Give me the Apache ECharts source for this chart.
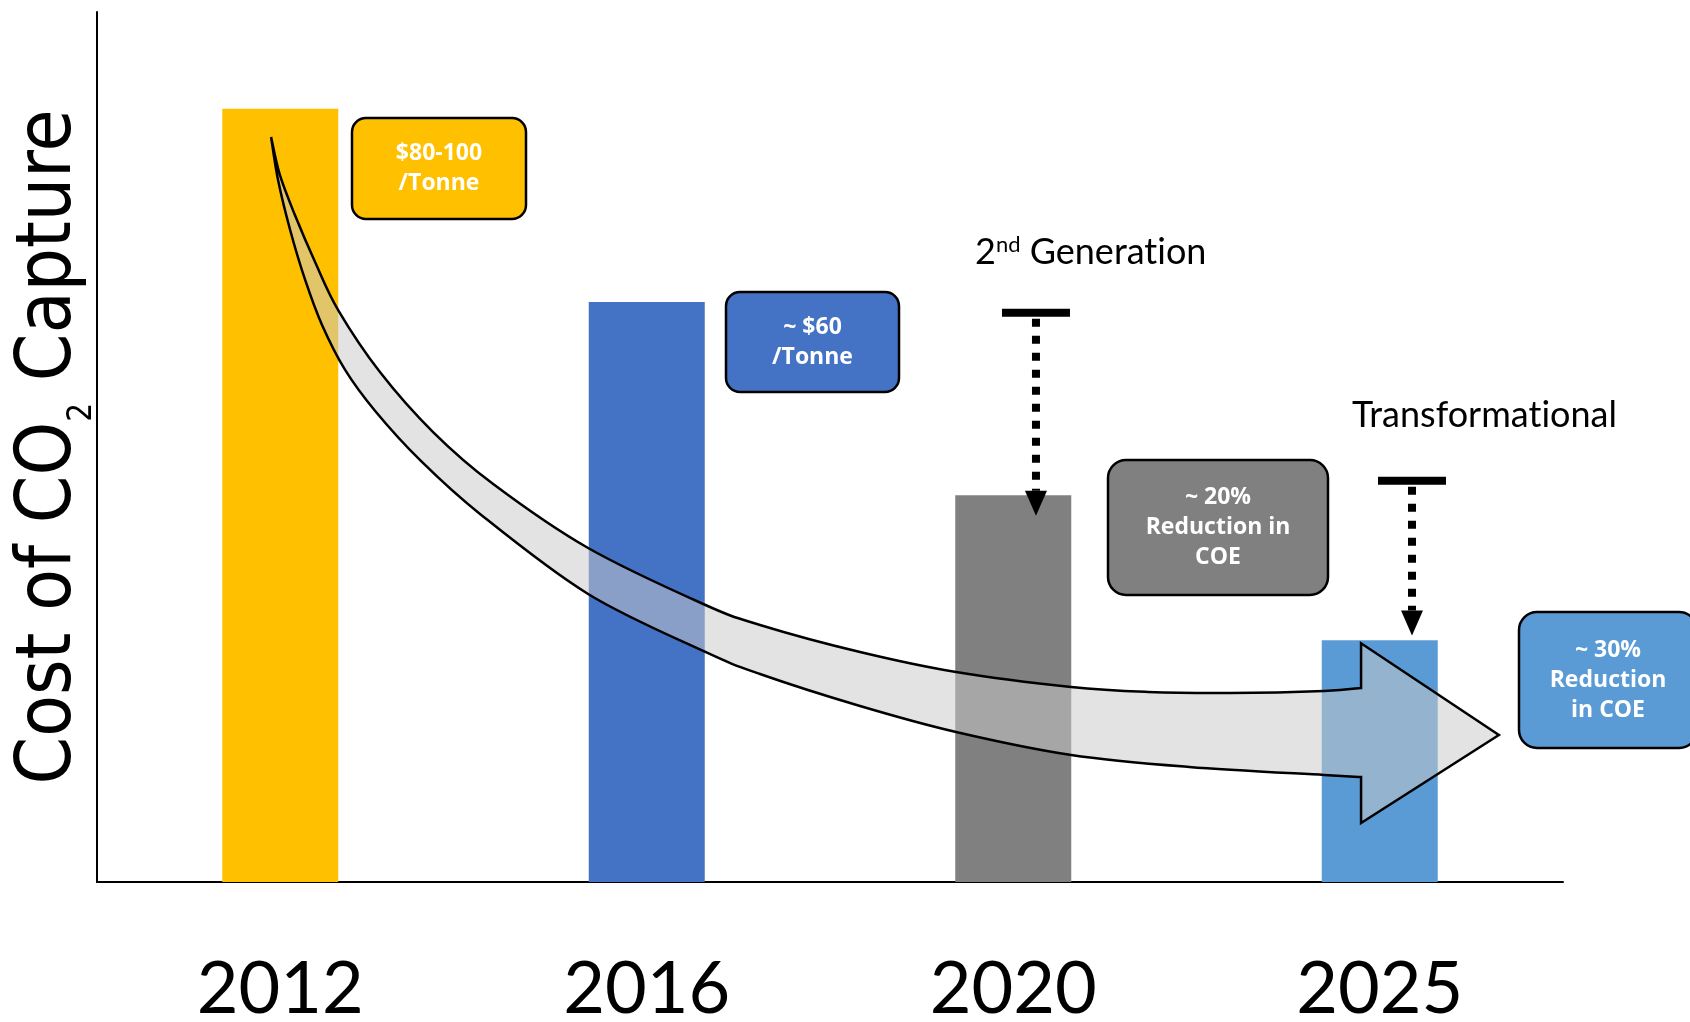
<!DOCTYPE html>
<html>
<head>
<meta charset="utf-8">
<title>Cost of CO2 Capture</title>
<script src="https://cdn.jsdelivr.net/npm/echarts@6/dist/echarts.min.js"></script>
<style>
  html, body { margin: 0; padding: 0; background: #ffffff; }
  #chart { width: 1690px; height: 1022px; }
</style>
</head>
<body>
<div id="chart"></div>
<script>
// ---- data ----
const years = ['2012', '2016', '2020', '2025'];
const captureCost = [80, 60, 40, 25];
const barColors = ['#ffc000', '#4472c4', '#808080', '#5b9bd5'];
const calloutText = [
  ['$80-100', '/Tonne'],
  ['~ $60', '/Tonne'],
  ['~ 20%', 'Reduction in', 'COE'],
  ['~ 30%', 'Reduction', 'in COE']
];
// trend arrow outline, in axis units (x = category index, y = cost)
const trendUpperX = [-0.025, -0.001, 0.040, 0.095, 0.158, 0.272, 0.417, 0.581, 0.840, 1.154, 1.309, 1.582, 1.844, 2.158, 2.368, 2.591, 2.848, 2.949];
const trendUpperY = [77.07, 73.14, 69.00, 64.14, 59.17, 52.76, 46.55, 41.17, 34.55, 28.76, 26.59, 23.79, 21.72, 20.17, 19.66, 19.55, 19.76, 20.07];
const trendLowerX = [-0.025, -0.006, 0.027, 0.068, 0.114, 0.177, 0.259, 0.381, 0.545, 0.840, 1.154, 1.309, 1.582, 1.844, 2.158, 2.480, 2.848, 2.949];
const trendLowerY = [77.07, 72.62, 67.45, 62.28, 57.62, 52.97, 48.72, 43.66, 38.07, 29.79, 23.90, 21.52, 18.21, 15.52, 13.14, 11.90, 11.07, 10.86];
const trendHeadX = [2.949, 3.325, 2.949];
const trendHeadY = [24.7, 15.2, 6.1];
// expected cost drops for the next technology generations
const stepNames = ['Generat\u200Cion', 'Transformat\u200Cional'];
const stepX = [2.062, 3.088];
const stepFrom = [58.9, 41.5];
const stepTo = [37.9, 25.5];

// ---- layout ----
const calloutBoxes = [
  { x: 352, y: 118, w: 174, h: 101, r: 14 },
  { x: 726, y: 292, w: 173, h: 100, r: 14 },
  { x: 1108, y: 460, w: 220, h: 135, r: 18 },
  { x: 1519, y: 612, w: 178, h: 136, r: 18 }
];
const BOX_FONT = '"Open Sans", "DejaVu Sans", sans-serif';
const HEAD_FONT = 'Lato, "Open Sans", sans-serif';
const TITLE_FONT = '"DejaVu Sans Condensed", "DejaVu Sans", sans-serif';

function catmullPath(pts, start) {
  let d = (start ? 'M' : 'L') + pts[0][0].toFixed(2) + ',' + pts[0][1].toFixed(2);
  const n = pts.length;
  for (let i = 0; i < n - 1; i++) {
    const p0 = pts[Math.max(i - 1, 0)], p1 = pts[i], p2 = pts[i + 1], p3 = pts[Math.min(i + 2, n - 1)];
    const c1 = [p1[0] + (p2[0] - p0[0]) / 6, p1[1] + (p2[1] - p0[1]) / 6];
    const c2 = [p2[0] - (p3[0] - p1[0]) / 6, p2[1] - (p3[1] - p1[1]) / 6];
    d += 'C' + c1[0].toFixed(2) + ',' + c1[1].toFixed(2) + ' ' + c2[0].toFixed(2) + ',' + c2[1].toFixed(2) + ' ' + p2[0].toFixed(2) + ',' + p2[1].toFixed(2);
  }
  return d;
}

function renderTrend(params, api) {
  const up = trendUpperX.map((x, i) => api.coord([x, trendUpperY[i]]));
  const lo = trendLowerX.map((x, i) => api.coord([x, trendLowerY[i]])).reverse();
  const head = trendHeadX.map((x, i) => api.coord([x, trendHeadY[i]]));
  let d = catmullPath(up, true);
  head.forEach(p => { d += 'L' + p[0].toFixed(2) + ',' + p[1].toFixed(2); });
  d += catmullPath(lo, false) + 'Z';
  return {
    type: 'path',
    shape: { pathData: d },
    style: { fill: 'rgba(201,201,201,0.52)', stroke: '#000', lineWidth: 2.5, lineJoin: 'miter' }
  };
}

function renderStep(params, api) {
  const i = params.dataIndex;
  const top = api.coord([stepX[i], stepFrom[i]]);
  const tip = api.coord([stepX[i], stepTo[i]]);
  const headH = 25, headW = 22, barW = 68, barT = 8;
  return {
    type: 'group',
    children: [
      { type: 'rect', shape: { x: top[0] - barW / 2, y: top[1] - barT / 2, width: barW, height: barT }, style: { fill: '#000' } },
      { type: 'line', shape: { x1: top[0], y1: top[1] + barT / 2 + 2, x2: tip[0], y2: tip[1] - headH },
        style: { stroke: '#000', lineWidth: 8, lineDash: [8, 9] } },
      { type: 'polygon', shape: { points: [[tip[0] - headW / 2, tip[1] - headH], [tip[0] + headW / 2, tip[1] - headH], [tip[0], tip[1]]] },
        style: { fill: '#000' } }
    ]
  };
}

const callouts = calloutBoxes.map((b, i) => ({
  type: 'group',
  z: 10,
  children: [
    { type: 'rect', shape: { x: b.x, y: b.y, width: b.w, height: b.h, r: b.r },
      style: { fill: barColors[i], stroke: '#000', lineWidth: 2.5 } },
    { type: 'text', x: b.x + b.w / 2, y: b.y + b.h / 2,
      style: { text: calloutText[i].join('\n'), fill: '#ffffff', fontFamily: BOX_FONT, fontWeight: 'bold',
               fontSize: 23, lineHeight: 30, align: 'center', verticalAlign: 'middle' } }
  ]
}));

const headings = [
  { type: 'text', x: 975, y: 252, z: 10,
    style: { text: '{m|2}{s|nd}{m| ' + stepNames[0] + '}', fill: '#000', align: 'left', verticalAlign: 'middle',
             rich: { m: { fontFamily: HEAD_FONT, fontSize: 36, lineHeight: 36, fill: '#000' },
                     s: { fontFamily: HEAD_FONT, fontSize: 22, lineHeight: 22, verticalAlign: 'top', fill: '#000' } } } },
  { type: 'text', x: 1352, y: 415, z: 10,
    style: { text: stepNames[1], fill: '#000', fontFamily: HEAD_FONT, fontSize: 36, align: 'left', verticalAlign: 'middle' } }
];

const chart = echarts.init(document.getElementById('chart'), null, { renderer: 'canvas' });
chart.setOption({
  animation: false,
  backgroundColor: '#ffffff',
  grid: { left: 97, right: 127, top: 12, bottom: 140, containLabel: false, outerBoundsMode: 'none' },
  xAxis: [
    {
      type: 'category',
      data: years,
      axisLine: { show: true, onZero: false, lineStyle: { color: '#000', width: 2 } },
      axisTick: { show: false },
      axisLabel: { color: '#000', fontFamily: HEAD_FONT, fontSize: 72, margin: 72 },
      splitLine: { show: false }
    },
    { type: 'value', min: -0.5, max: 3.5, show: false }
  ],
  yAxis: {
    type: 'value',
    min: 0,
    max: 90,
    axisLine: { show: true, onZero: false, lineStyle: { color: '#000', width: 2 } },
    axisTick: { show: false },
    axisLabel: { show: false },
    splitLine: { show: false },
    name: '{m|Cost of CO}{s|2}{m| Capture}',
    nameLocation: 'middle',
    nameRotate: 90,
    nameGap: -2,
    nameTextStyle: {
      rich: {
        m: { fontFamily: TITLE_FONT, fontSize: 76, lineHeight: 98, color: '#000' },
        s: { fontFamily: TITLE_FONT, fontSize: 33, lineHeight: 33, verticalAlign: 'bottom', color: '#000' }
      }
    }
  },
  series: [
    {
      name: 'Cost of capture',
      type: 'bar',
      xAxisIndex: 0,
      barWidth: 116,
      z: 2,
      data: captureCost.map((v, i) => ({ value: v, itemStyle: { color: barColors[i] } }))
    },
    {
      name: 'Trend',
      type: 'custom',
      xAxisIndex: 1,
      z: 3,
      silent: true,
      data: [[0, 0]],
      renderItem: renderTrend
    },
    {
      name: 'Generation steps',
      type: 'custom',
      xAxisIndex: 1,
      z: 4,
      silent: true,
      data: stepX.map((x, i) => [x, stepTo[i]]),
      renderItem: renderStep
    }
  ],
  graphic: callouts.concat(headings)
});
</script>
</body>
</html>
